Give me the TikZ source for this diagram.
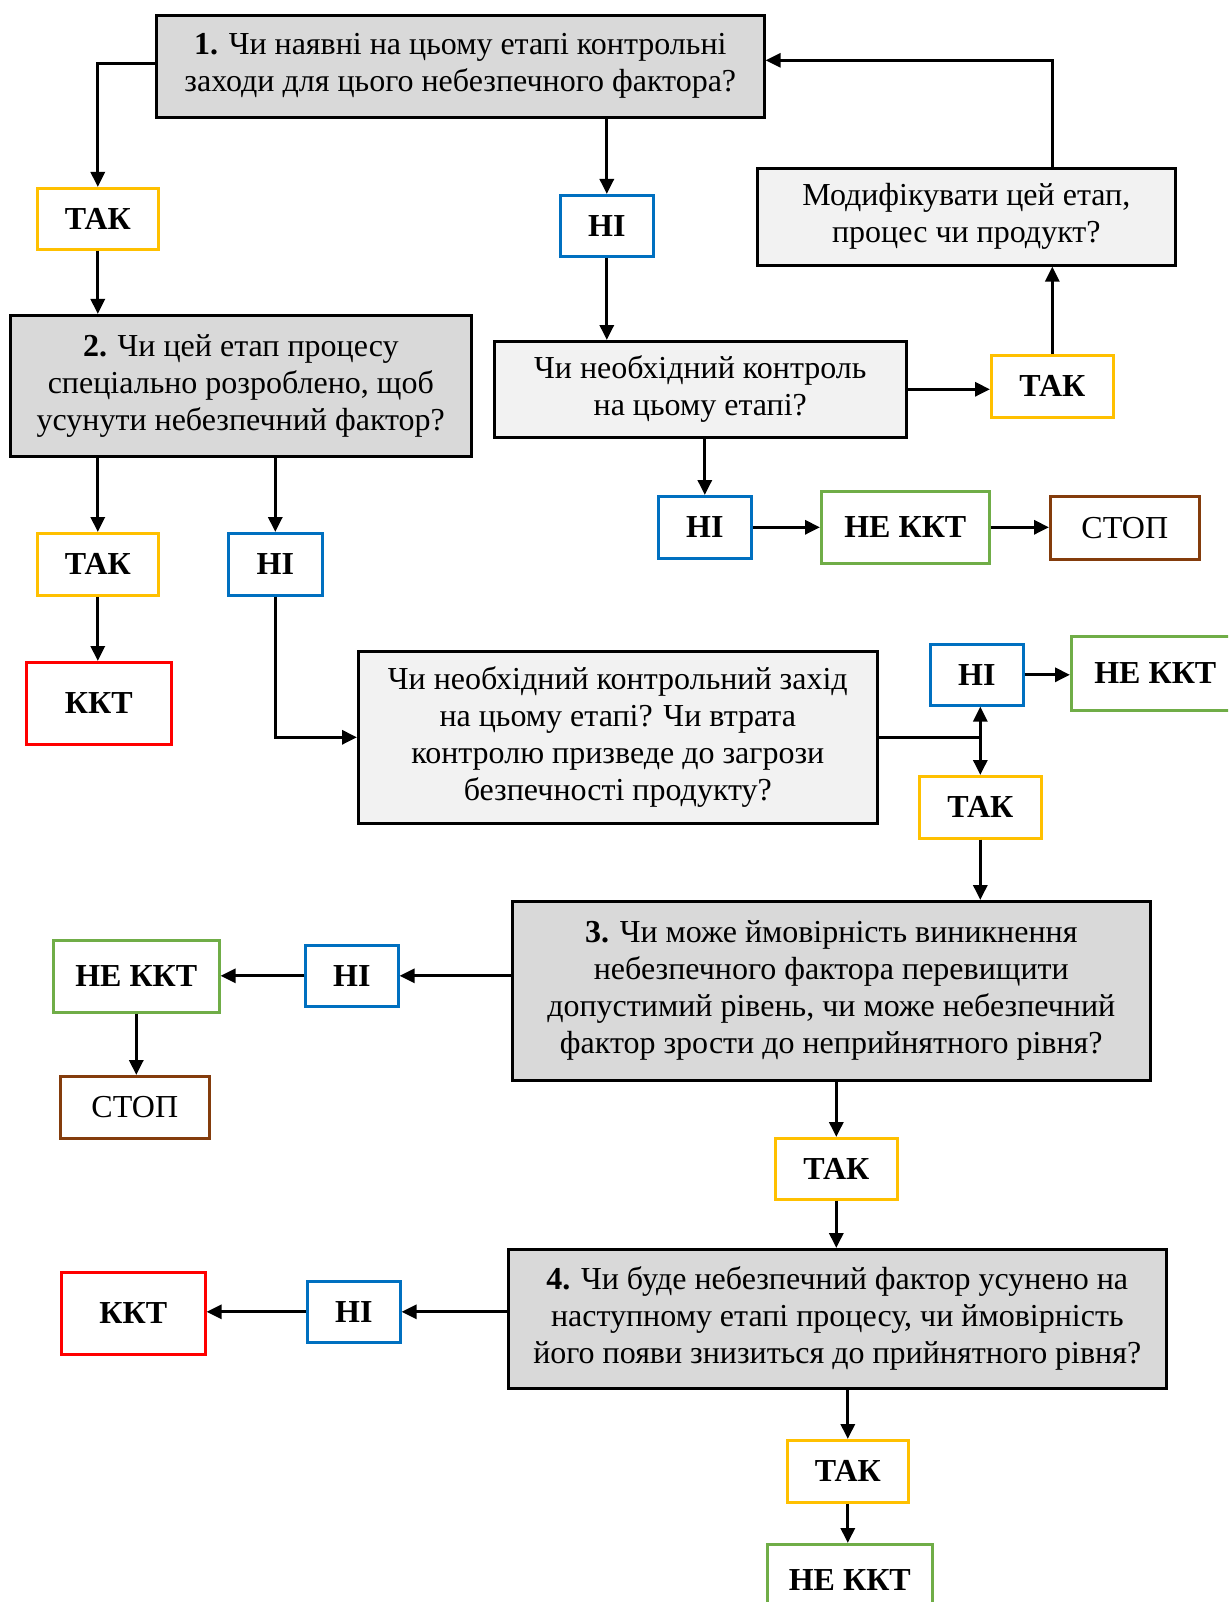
\documentclass[tikz,border=0pt]{standalone}
\usepackage{fontspec}
\setmainfont{Liberation Serif}
\usetikzlibrary{arrows.meta}
\definecolor{qgray}{HTML}{D9D9D9}
\definecolor{lgray}{HTML}{F2F2F2}
\definecolor{cyellow}{HTML}{FFC000}
\definecolor{cblue}{HTML}{0070C0}
\definecolor{cgreen}{HTML}{70AD47}
\definecolor{cred}{HTML}{FF0000}
\definecolor{cbrown}{HTML}{843C0C}
\tikzset{
  base/.style={line width=2.6pt, inner sep=0pt, anchor=north west, align=center,
    font=\fontsize{32}{37}\selectfont},
  qbox/.style={base, draw=black, fill=qgray},
  lbox/.style={base, draw=black, fill=lgray},
  ans/.style={base, fill=white, font=\fontsize{32}{37}\selectfont\bfseries},
  yesbox/.style={ans, draw=cyellow},
  nobox/.style={ans, draw=cblue},
  nokktbox/.style={ans, draw=cgreen},
  kktbox/.style={ans, draw=cred},
  stopbox/.style={base, fill=white, draw=cbrown},
  arr/.style={line width=3pt, -{Triangle[length=15pt,width=14pt]}},
  ln/.style={line width=3pt},
  wh/.style 2 args={minimum width=#1pt, minimum height=#2pt}
}
\begin{document}
\begin{tikzpicture}[x=1pt,y=-1pt]
\useasboundingbox (0,0) rectangle (1228,1602);
\clip (0,0) rectangle (1228,1602);
\fill[white] (0,0) rectangle (1228,1602);
% question boxes
\node[qbox,wh={608}{102}] (box1) at (155,14) {\textbf{1.} Чи наявні на цьому етапі контрольні\\заходи для цього небезпечного фактора?};
\node[lbox,wh={418}{97}] (mod) at (756,167) {Модифікувати цей етап,\\процес чи продукт?};
\node[qbox,wh={461}{141}] (box2) at (9,314) {\textbf{2.} Чи цей етап процесу\\спеціально розроблено, щоб\\усунути небезпечний фактор?};
\node[lbox,wh={412}{96}] (nc) at (493,340) {Чи необхідний контроль\\на цьому етапі?};
\node[lbox,wh={519}{172}] (box5) at (357,650) {Чи необхідний контрольний захід\\на цьому етапі? Чи втрата\\контролю призведе до загрози\\безпечності продукту?};
\node[qbox,wh={638}{179}] (box3) at (511,900) {\textbf{3.} Чи може ймовірність виникнення\\небезпечного фактора перевищити\\допустимий рівень, чи може небезпечний\\фактор зрости до неприйнятного рівня?};
\node[qbox,wh={658}{139}] (box4) at (507,1248) {\textbf{4.} Чи буде небезпечний фактор усунено на\\наступному етапі процесу, чи ймовірність\\його появи знизиться до прийнятного рівня?};
% answer boxes
\node[yesbox,wh={121}{61}] (tak1) at (36,187) {ТАК};
\node[nobox,wh={93}{61}] (ni1) at (559,194) {НІ};
\node[yesbox,wh={122}{62}] (tak2) at (990,354) {ТАК};
\node[nobox,wh={93}{62}] (ni2) at (657,495) {НІ};
\node[nokktbox,wh={168}{72}] (nekkt1) at (820,490) {НЕ ККТ};
\node[stopbox,wh={149}{63}] (stop1) at (1049,495) {СТОП};
\node[yesbox,wh={121}{62}] (tak3) at (36,532) {ТАК};
\node[nobox,wh={94}{62}] (ni3) at (227,532) {НІ};
\node[kktbox,wh={145}{82}] (kkt1) at (25,661) {ККТ};
\node[nobox,wh={93}{61}] (ni4) at (929,643) {НІ};
\node[nokktbox,wh={168}{74}] (nekkt2) at (1070,635) {НЕ ККТ};
\node[yesbox,wh={122}{62}] (tak4) at (918,775) {ТАК};
\node[nobox,wh={93}{61}] (ni5) at (304,944) {НІ};
\node[nokktbox,wh={166}{72}] (nekkt3) at (52,939) {НЕ ККТ};
\node[stopbox,wh={149}{62}] (stop2) at (59,1075) {СТОП};
\node[yesbox,wh={122}{61}] (tak5) at (774,1137) {ТАК};
\node[nobox,wh={93}{61}] (ni6) at (306,1280) {НІ};
\node[kktbox,wh={144}{82}] (kkt2) at (60,1271) {ККТ};
\node[yesbox,wh={121}{62}] (tak6) at (786,1439) {ТАК};
\node[nokktbox,wh={165}{72}] (nekkt4) at (766,1543) {НЕ ККТ};
% connectors
\draw[arr] ([yshift=3pt]box1.west) -| (tak1.north);
\draw[arr] (box1.south -| ni1.north) -- (ni1.north);
\draw[arr] (ni1.south) -- (nc.north -| ni1.south);
\draw[arr] (nc.east) -- (nc.east -| tak2.west);
\draw[arr] (tak2.north) -- (mod.south -| tak2.north);
\draw[arr] (mod.north -| tak2.north) |- ([yshift=6pt]box1.east);
\draw[arr] (nc.south -| ni2.north) -- (ni2.north);
\draw[arr] (ni2.east) -- (ni2.east -| nekkt1.west);
\draw[arr] (nekkt1.east) -- (nekkt1.east -| stop1.west);
\draw[arr] (tak1.south) -- (box2.north -| tak1.south);
\draw[arr] (box2.south -| tak3.north) -- (tak3.north);
\draw[arr] (box2.south -| ni3.north) -- (ni3.north);
\draw[arr] (tak3.south) -- (kkt1.north -| tak3.south);
\draw[arr] (ni3.south) |- (box5.west);
\coordinate (j) at (tak4.north |- box5.east);
\draw[ln] (box5.east) -- (j);
\draw[arr] (j) -- (ni4.south -| j);
\draw[arr] (j) -- (tak4.north);
\draw[arr] (ni4.east) -- (ni4.east -| nekkt2.west);
\draw[arr] (tak4.south) -- (box3.north -| tak4.south);
\draw[arr] (box3.west |- ni5.east) -- (ni5.east);
\draw[arr] (ni5.west) -- (nekkt3.east |- ni5.west);
\draw[arr] (nekkt3.south) -- (stop2.north -| nekkt3.south);
\draw[arr] (box3.south -| tak5.north) -- (tak5.north);
\draw[arr] (tak5.south) -- (box4.north -| tak5.south);
\draw[arr] (box4.west |- ni6.east) -- (ni6.east);
\draw[arr] (ni6.west) -- (kkt2.east |- ni6.west);
\draw[arr] (box4.south -| tak6.north) -- (tak6.north);
\draw[arr] (tak6.south) -- (nekkt4.north -| tak6.south);
\end{tikzpicture}
\end{document}
